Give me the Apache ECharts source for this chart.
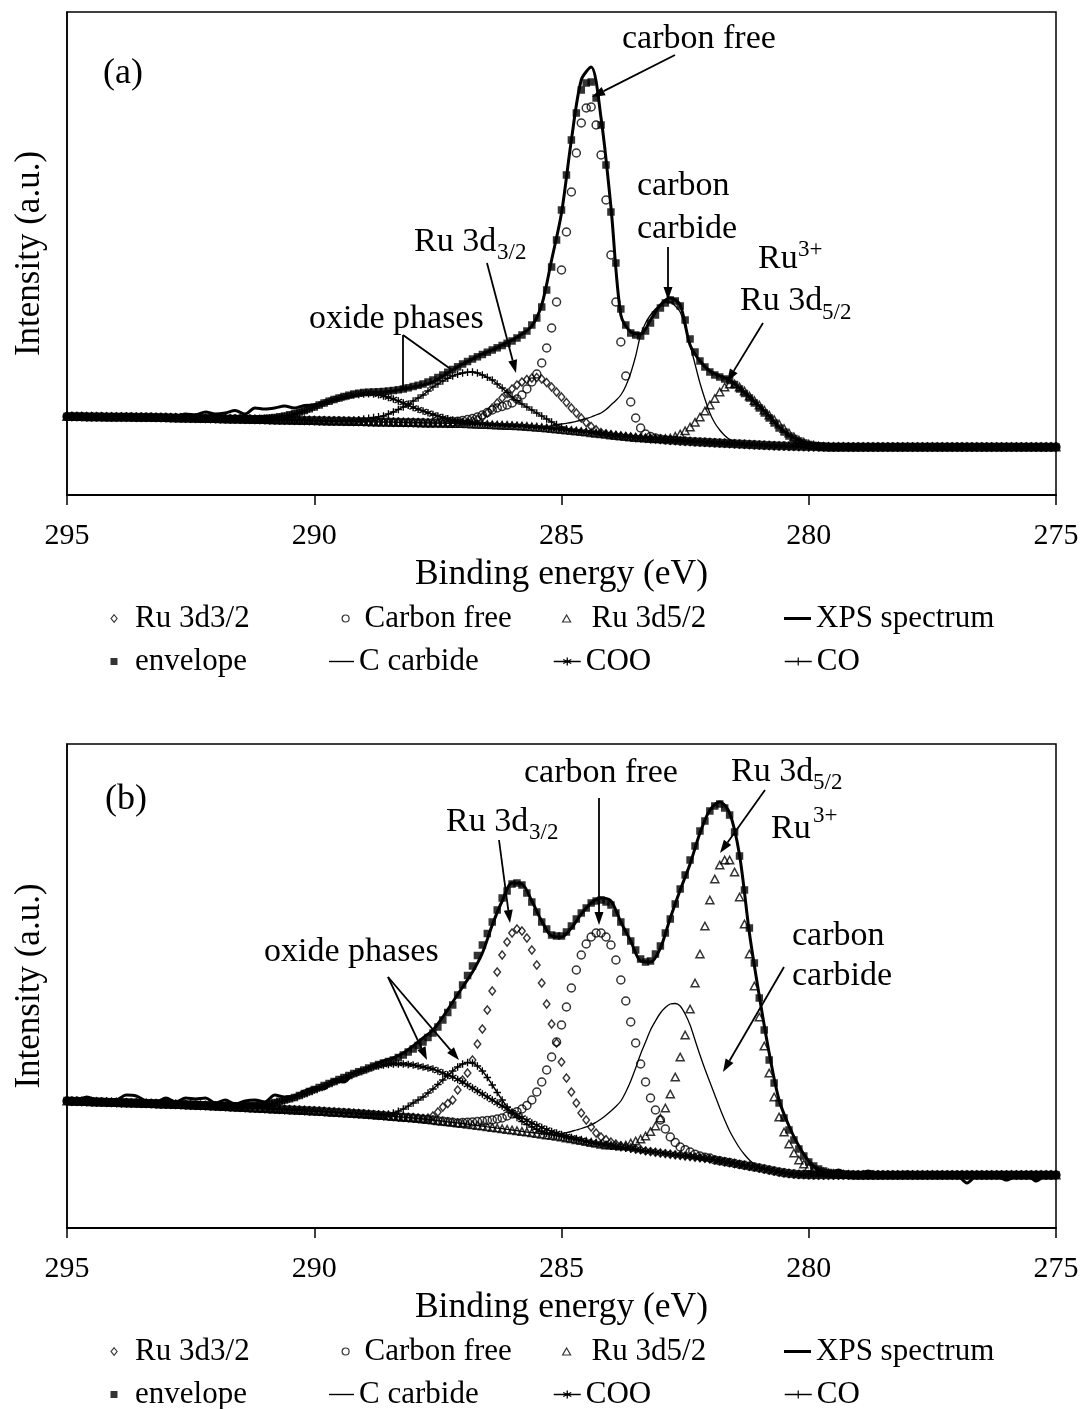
<!DOCTYPE html>
<html><head><meta charset="utf-8">
<script src="https://cdn.jsdelivr.net/npm/echarts@6.0.0/dist/echarts.min.js"></script>
<style>html,body{margin:0;padding:0;background:#fff}#chart{width:1082px;height:1409px}</style>
</head><body><div id="chart"></div>
<script>
// ---------- sampling grids (eV): spectra every 0.2 eV, fitted curves every 0.1 eV, from 295 down ----------
const E_START = 295, SPEC_STEP = 0.2, FIT_STEP = 0.1;

// ================= panel (a) =================
const spectrumA = [
 79, 79, 78.5, 79, 78.5, 79, 78.5, 78, 79, 78.5,
 79, 78.5, 81, 80, 83, 81, 82, 84.5, 81, 87,
 86, 87, 89, 87, 89.5, 90, 92, 95, 97, 99.5,
 101.5, 102.5, 103, 104, 106, 108, 110, 113, 119, 125,
 131, 136, 141, 145, 150, 155, 161, 169, 190, 235,
 282, 355, 415, 428, 377, 288, 180, 163, 161, 175,
 190, 197, 190, 150, 134, 124, 119, 115, 107, 98,
 89, 79, 68, 60, 55, 51, 49.5, 48.5, 48.5, 48,
 48.5, 48, 48, 48.5, 48, 48, 48, 48.5, 48, 48,
 47.5, 48, 48, 48, 48, 47.5, 48, 48, 48, 48,
 48];
const backgroundA = [
 78.5, 78.5, 78.4, 78.4, 78.3, 78.3, 78.2, 78.2, 78.1, 78.1,
 78, 78, 77.9, 77.9, 77.8, 77.8, 77.7, 77.7, 77.6, 77.5,
 77.4, 77.3, 77.2, 77.1, 77, 76.9, 76.8, 76.7, 76.6, 76.5,
 76.4, 76.3, 76.2, 76.1, 76, 75.9, 75.8, 75.7, 75.6, 75.5,
 75.4, 75.3, 75.2, 75.1, 75, 74.9, 74.8, 74.7, 74.6, 74.5,
 74.4, 74.3, 74.2, 74.1, 74, 73.9, 73.8, 73.7, 73.6, 73.5,
 73.4, 73.3, 73.2, 73.1, 73, 72.9, 72.8, 72.7, 72.6, 72.5,
 72.4, 72.3, 72.2, 72.1, 72, 71.9, 71.8, 71.7, 71.6, 71.5,
 71.4, 71.2, 71, 70.8, 70.6, 70.4, 70.2, 70, 69.8, 69.6,
 69.4, 69.2, 68.9, 68.6, 68.2, 67.8, 67.4, 67, 66.5, 66,
 65.5, 65, 64.5, 64, 63.4, 62.9, 62.3, 61.8, 61.2, 60.7,
 60.1, 59.6, 59, 58.5, 58, 57.5, 57.1, 56.7, 56.3, 55.9,
 55.5, 55.2, 54.8, 54.5, 54.1, 53.8, 53.5, 53.2, 52.9, 52.7,
 52.4, 52.2, 51.9, 51.7, 51.4, 51.2, 50.9, 50.7, 50.4, 50.2,
 49.9, 49.7, 49.5, 49.3, 49.1, 49, 48.8, 48.7, 48.5, 48.4,
 48.3, 48.3, 48.2, 48.2, 48.1, 48.1, 48.1, 48.1, 48, 48,
 48, 48, 48, 48, 48, 48, 48, 48, 48, 48,
 48, 48, 48, 48, 48, 48, 48, 48, 48, 48,
 48, 48, 48, 48, 48, 48, 48, 48, 48, 48,
 48, 48, 48, 48, 48, 48, 48, 48, 48, 48,
 48];
const envelopeA = [
 78.5, 78.5, 78.4, 78.4, 78.3, 78.3, 78.2, 78.2, 78.1, 78.1,
 78, 78, 77.9, 77.9, 77.8, 77.8, 77.7, 77.7, 77.6, 77.5,
 77.4, 77.3, 77.2, 77.1, 77, 76.9, 76.8, 76.7, 76.6, 76.5,
 76.4, 76.3, 76.2, 76.1, 76.1, 76.1, 76, 76, 76, 76.2,
 76.5, 76.9, 77.5, 78.2, 79, 80.2, 81.5, 83, 84.5, 86.2,
 88, 90, 92, 93.8, 95.5, 97, 98.5, 99.8, 101, 101.8,
 102.5, 102.8, 103, 103.2, 103.5, 104, 104.5, 105.2, 106, 107.2,
 108.5, 109.7, 111, 113, 115, 117.5, 120, 122.7, 125.5, 128.2,
 131, 133.5, 136, 138.2, 140.5, 142.8, 145, 147.2, 149.5, 151.7,
 154, 157, 160, 164, 170, 177, 188, 205, 228, 255,
 285, 320, 355, 382, 405, 412, 413, 397, 370, 330,
 283, 232, 186, 170, 162, 160, 159, 164, 172, 180,
 187, 192, 195, 194, 189, 175, 156, 143, 134, 128,
 123, 120, 118, 116, 114.5, 110.5, 106, 101.5, 97, 92,
 87, 82, 77, 72, 67, 63, 59, 56.5, 54, 52,
 50.5, 49.6, 49, 48.6, 48.3, 48.2, 48.2, 48.1, 48.1, 48,
 48, 48, 48, 48, 48, 48, 48, 48, 48, 48,
 48, 48, 48, 48, 48, 48, 48, 48, 48, 48,
 48, 48, 48, 48, 48, 48, 48, 48, 48, 48,
 48, 48, 48, 48, 48, 48, 48, 48, 48, 48,
 48];
// fitted components: values start at the given energy (eV) in 0.1 eV steps; background elsewhere
const ru32A_start = 287.6;
const ru32A = [72.1, 72, 71.9, 71.8, 71.8, 71.9, 72.2, 72.9, 74, 75.7,
 78, 82, 87, 92, 97, 101.5, 106, 110, 113, 115.5,
 117, 117.5, 116, 112.5, 108, 103, 98, 92.5, 87, 82,
 77, 72.5, 68.5, 65.2, 62.5, 61.2, 60.3, 59.6, 59.1];
const carbonFreeA_start = 287.6;
const carbonFreeA = [72.2, 72.3, 72.5, 72.8, 73.2, 73.8, 74.5, 75.4, 76.5, 78,
 80, 82.5, 85, 87, 88.5, 90, 92, 96, 100, 106,
 113, 121, 132, 147, 167, 193, 225, 263, 303, 342,
 372, 387, 388, 370, 340, 295, 240, 193, 153, 119,
 93, 77, 67, 61, 58.5, 57, 56];
const ru52A_start = 283.4;
const ru52A = [57.3, 56.9, 56.6, 56.3, 56.2, 56.4, 57, 58.7, 61, 64.2,
 68, 72.7, 78, 84, 90, 96.5, 103, 108, 111, 111,
 108, 104, 99, 94.5, 90, 85, 80, 75.5, 71, 66.5,
 62, 58.2, 55, 52.8, 51, 49.8, 49];
const carbideA_start = 285.6;
const carbideA = [68.5, 68.3, 68.2, 68.5, 69, 70, 71, 71.7, 72.5, 73.7,
 75, 76.5, 78, 80, 82, 85.5, 90, 94.5, 100, 109,
 122, 139, 160, 172, 180, 186, 190, 192.5, 193, 189,
 183, 168, 150, 131, 112, 96, 82, 72, 65, 59.5,
 55.5, 53.5, 52, 51.2, 50.6, 50.2, 50];
const cooA_start = 291.4;
const cooA = [75.9, 75.9, 76, 76.2, 76.5, 76.9, 77.3, 78, 78.7, 79.8,
 81, 82.5, 84, 86, 88, 90, 92, 93.8, 95.5, 96.8,
 98, 99.1, 100, 100.6, 101, 101.2, 101, 100.2, 99, 97.6,
 96, 94, 92, 89.8, 87.5, 85.7, 84, 82.2, 80.5, 79,
 77.5, 76.2, 75, 74, 73, 72.2, 71.5, 71.2, 71];
const coA_start = 289.4;
const coA = [74, 74.3, 74.8, 75.3, 76, 76.7, 77.5, 78.2, 79, 81,
 83, 85.5, 88, 91, 94, 97, 100, 104, 108, 111,
 114, 116.7, 119, 120.7, 122, 122.8, 123, 122, 120, 117.7,
 115, 111, 107, 102.5, 98, 94.5, 91, 88, 85, 82,
 79, 76, 73, 70.5, 68, 66.3, 64.8];

// ================= panel (b) =================
const spectrumB = [
 129, 128, 131, 128, 127, 128, 133, 132, 127, 126,
 130, 126, 130, 129, 130, 125, 128, 124, 127, 128,
 126, 133, 131, 132, 137, 140, 139, 148, 146, 155,
 158, 163, 167, 170, 175, 182, 190, 198, 211, 226,
 241, 256, 275, 303, 327, 345, 344, 327, 307, 292,
 291, 300, 314, 325, 330, 327, 306, 287, 267, 266,
 280, 310, 338, 364, 395, 418, 426, 415, 373, 295,
 232, 175, 128, 102, 82, 67, 58, 55, 58, 54,
 54, 57, 54, 53, 54, 56, 53, 54, 53, 54,
 53, 45, 53, 54, 53, 48, 53, 54, 47, 53,
 53];
const backgroundB = [
 127, 126.8, 126.7, 126.5, 126.4, 126.2, 126.1, 125.9, 125.8, 125.6,
 125.5, 125.3, 125.2, 125, 124.9, 124.7, 124.6, 124.4, 124.3, 124.1,
 124, 123.8, 123.6, 123.4, 123.2, 123, 122.8, 122.6, 122.4, 122.2,
 122, 121.7, 121.5, 121.2, 121, 120.7, 120.5, 120.2, 120, 119.7,
 119.5, 119.2, 119, 118.7, 118.5, 118.2, 118, 117.7, 117.5, 117.2,
 117, 116.7, 116.4, 116.1, 115.8, 115.5, 115.2, 114.9, 114.6, 114.3,
 114, 113.6, 113.2, 112.8, 112.4, 112, 111.6, 111.2, 110.8, 110.4,
 110, 109.5, 109, 108.5, 107.9, 107.3, 106.8, 106.2, 105.7, 105.1,
 104.5, 103.8, 103.2, 102.5, 101.9, 101.2, 100.6, 99.9, 99.3, 98.6,
 98, 97.3, 96.6, 95.9, 95.2, 94.5, 93.8, 93.1, 92.4, 91.7,
 91, 90.1, 89.2, 88.3, 87.4, 86.5, 85.6, 84.7, 83.8, 82.9,
 82, 81.3, 80.6, 79.9, 79.2, 78.5, 77.8, 77.1, 76.4, 75.7,
 75, 74.4, 73.8, 73.2, 72.6, 72, 71.4, 70.8, 70.2, 69.6,
 69, 68.1, 67.2, 66.3, 65.4, 64.5, 63.6, 62.7, 61.8, 60.9,
 60, 59, 58, 57, 56, 55.2, 54.5, 54, 53.6, 53.4,
 53.2, 53.1, 53, 53, 53, 53, 53, 53, 53, 53,
 53, 53, 53, 53, 53, 53, 53, 53, 53, 53,
 53, 53, 53, 53, 53, 53, 53, 53, 53, 53,
 53, 53, 53, 53, 53, 53, 53, 53, 53, 53,
 53, 53, 53, 53, 53, 53, 53, 53, 53, 53,
 53];
const envelopeB = [
 127.5, 127.3, 127.2, 127, 126.9, 126.7, 126.6, 126.4, 126.3, 126.1,
 126, 125.8, 125.7, 125.5, 125.4, 125.2, 125.1, 124.9, 124.8, 124.6,
 124.5, 124.3, 124.1, 123.9, 123.7, 123.5, 123.3, 123.1, 122.9, 122.7,
 122.5, 122.3, 122.2, 122.1, 122, 122.1, 122.2, 122.4, 122.8, 123.1,
 123.5, 124.4, 125.5, 126.7, 128, 129.2, 130.5, 132.5, 134.5, 136.5,
 138.5, 140.5, 142.5, 144.5, 146.5, 148.5, 150.5, 152.5, 154.5, 156.3,
 158, 160, 162, 163.5, 165, 166.5, 168, 170.5, 173, 176,
 179, 182.5, 186, 190.5, 195, 201, 208, 215.5, 223, 233,
 243, 252.5, 262, 272.5, 283, 294.5, 306, 318, 330, 337,
 344, 345, 343, 335, 326, 316, 306, 299, 293, 292,
 292, 296, 302, 309, 315, 320, 325, 327, 328, 326,
 323, 315, 306, 296, 287, 278, 269, 266, 267, 274,
 282, 295, 309, 324, 339, 353, 368, 382, 397, 407,
 417, 422, 424, 420, 413, 396, 372, 338, 300, 265,
 230, 198, 168, 145, 125, 110, 98, 88, 79, 72,
 66, 62, 59, 57, 55.5, 54.7, 54.2, 53.8, 53.6, 53.4,
 53.3, 53.2, 53.2, 53.2, 53.2, 53.2, 53.2, 53.2, 53.2, 53.2,
 53.2, 53.2, 53.2, 53.2, 53.2, 53.2, 53.2, 53.2, 53.2, 53.2,
 53.2, 53.2, 53.2, 53.2, 53.2, 53.2, 53.2, 53.2, 53.2, 53.2,
 53.2, 53.2, 53.2, 53.2, 53.2, 53.2, 53.2, 53.2, 53.2, 53.2,
 53.2];
const ru32B_start = 288.0;
const ru32B = [110.5, 110, 109.5, 110, 112, 116, 121, 124.5, 128, 138,
 148, 155, 168, 184, 199, 218, 237, 256, 273, 286,
 295, 299, 297, 290, 278, 263, 245, 224, 204, 185,
 166, 150, 136, 125, 115, 108, 101, 95, 91, 88.3,
 86, 84, 82.3, 81, 80, 79, 78.3];
const carbonFreeB_start = 287.0;
const carbonFreeB = [105.5, 105.7, 106, 106.5, 107, 107.5, 108, 109, 110, 112,
 114, 116.3, 119, 122.5, 128, 136, 146, 158, 171, 186,
 203, 221, 240, 258, 273, 284, 291, 295, 295, 291,
 283, 268, 248, 227, 206, 185, 164, 146, 130, 118,
 108, 99, 91, 85.5, 81, 78.3, 76, 73.8, 72, 70.8,
 70];
const ru52B_start = 284.0;
const ru52B = [83, 82.5, 82, 83, 85, 87, 89, 92, 96.5, 102,
 110, 120, 134, 151, 171, 193, 219, 245, 274, 302,
 328, 349, 363, 368, 368, 356, 331, 304, 274, 242,
 211, 182, 155, 131, 111, 96, 84, 75, 68, 64,
 61, 58.8, 57, 56, 55, 54.5, 54, 53.7, 53.5];
const carbideB_start = 285.6;
const carbideB = [95.5, 94.8, 94.2, 93.8, 93.5, 93.9, 94.5, 95.4, 96.5, 98,
 99.5, 101.2, 103, 105.8, 109, 112.8, 117, 121.5, 127, 136,
 147, 160, 174, 186, 198, 207, 215, 220.5, 224, 224.5,
 222, 214, 203, 188, 173, 159, 146, 133, 120, 108,
 97, 88, 80, 73.5, 68, 64, 61, 59.5, 58.3, 57.2,
 56.3];
const cooB_start = 291.6;
const cooB = [122, 122.1, 122.2, 122.4, 122.6, 122.9, 123.2, 124, 125, 126.2,
 127.5, 129, 130.5, 132.2, 134, 136, 138, 140, 142, 144,
 146, 148, 150, 152, 154, 155.8, 157.5, 159.3, 161, 162,
 163, 163.6, 164, 164.1, 164, 163.6, 163, 162, 161, 160,
 159, 157, 155, 153, 151, 148.5, 146, 143, 140, 137,
 134, 131, 128, 125, 122, 119, 116, 113.2, 110.5, 107.7,
 105, 102.7, 100.5, 98.5, 96.5, 95, 93.5, 92, 90.5, 89.2,
 88];
const coB_start = 288.8;
const coB = [113.5, 113.7, 113.8, 114, 115, 116.8, 119, 121.8, 125, 128,
 131, 135, 139, 143.5, 148, 152.5, 157, 161, 164, 165.5,
 165, 162, 157, 150.5, 143, 135.5, 128, 121, 115, 110.5,
 106.5, 103.5, 101, 98.7, 96.5, 94.8, 93.5, 92.4, 91.5];

const xTicks = { min: 275, max: 295, interval: 5 };
const legendNames = ['Ru 3d3/2', 'Carbon free', 'Ru 3d5/2', 'XPS spectrum', 'envelope', 'C carbide', 'COO', 'CO'];

// ---------- helpers ----------
const gridE = (n, step) => Array.from({ length: n }, (_, i) => +(E_START - step * i).toFixed(1));
const specE = gridE(spectrumA.length, SPEC_STEP);
const fitE = gridE(backgroundA.length, FIT_STEP);
function withBg(bg, start, vals) {
  const s = Math.round((E_START - start) / FIT_STEP);
  return bg.map((b, i) => (i >= s && i < s + vals.length) ? vals[i - s] : b);
}
const pairsOn = (xs, vals) => vals.map((v, i) => [xs[i], v]);

const SERIF = "'Liberation Serif', 'Times New Roman', serif";
const STAR = 'path://M5,0 L5,10 M0.7,2.5 L9.3,7.5 M0.7,7.5 L9.3,2.5';
const PLUS = 'path://M0,5 L10,5 M5,0 L5,10';
const HOLLOW = { color: 'rgba(255,255,255,0)', borderColor: '#000', borderWidth: 1.5 };

const panels = [
  { bg: backgroundA, spec: spectrumA, env: envelopeA,
    ru32: withBg(backgroundA, ru32A_start, ru32A), cf: withBg(backgroundA, carbonFreeA_start, carbonFreeA),
    ru52: withBg(backgroundA, ru52A_start, ru52A), carb: withBg(backgroundA, carbideA_start, carbideA),
    coo: withBg(backgroundA, cooA_start, cooA), co: withBg(backgroundA, coA_start, coA), ymax: 483 },
  { bg: backgroundB, spec: spectrumB, env: envelopeB,
    ru32: withBg(backgroundB, ru32B_start, ru32B), cf: withBg(backgroundB, carbonFreeB_start, carbonFreeB),
    ru52: withBg(backgroundB, ru52B_start, ru52B), carb: withBg(backgroundB, carbideB_start, carbideB),
    coo: withBg(backgroundB, cooB_start, cooB), co: withBg(backgroundB, coB_start, coB), ymax: 484 }
];

const grids = [
  { left: 67, top: 12, width: 989, height: 483 },
  { left: 67, top: 744, width: 989, height: 484 }
];

const series = [];
panels.forEach((P, k) => {
  const ax = { xAxisIndex: k, yAxisIndex: k, silent: true, emphasis: { disabled: true } };
  series.push(
    { ...ax, name: 'COO', type: 'line', data: pairsOn(fitE, P.coo), smooth: 0.3, symbol: STAR, symbolSize: 7.5,
      lineStyle: { color: '#000', width: 1.5 }, itemStyle: { color: '#000', borderColor: '#000', borderWidth: 1.4 } },
    { ...ax, name: 'CO', type: 'line', data: pairsOn(fitE, P.co), smooth: 0.3, symbol: PLUS, symbolSize: 7.5,
      lineStyle: { color: '#000', width: 1.4 }, itemStyle: { color: '#000', borderColor: '#000', borderWidth: 1.3 } },
    { ...ax, name: 'Ru 3d3/2', type: 'scatter', data: pairsOn(fitE, P.ru32), symbol: 'diamond', symbolSize: [6.5, 8], itemStyle: HOLLOW },
    { ...ax, name: 'Carbon free', type: 'scatter', data: pairsOn(fitE, P.cf), symbol: 'circle', symbolSize: 8, itemStyle: HOLLOW },
    { ...ax, name: 'Ru 3d5/2', type: 'scatter', data: pairsOn(fitE, P.ru52), symbol: 'triangle', symbolSize: [8, 7.5], itemStyle: HOLLOW },
    { ...ax, name: 'C carbide', type: 'line', data: pairsOn(fitE, P.carb), smooth: 0.3, symbol: 'none',
      lineStyle: { color: '#000', width: 1.3 } },
    { ...ax, name: 'envelope', type: 'scatter', data: pairsOn(fitE, P.env), symbol: 'rect', symbolSize: 7.5, itemStyle: { color: '#000' } },
    { ...ax, name: 'XPS spectrum', type: 'line', data: pairsOn(specE, P.spec), smooth: 0.3, symbol: 'none',
      lineStyle: { color: '#000', width: 3 } }
  );
});

const axisFont = { fontFamily: SERIF, color: '#000' };
const xAxes = grids.map((g, k) => ({
  gridIndex: k, type: 'value', inverse: true, min: xTicks.min, max: xTicks.max, interval: xTicks.interval,
  name: 'Binding energy (eV)', nameLocation: 'middle', nameGap: 62, nameMoveOverlap: false,
  nameTextStyle: { ...axisFont, fontSize: 35.5 },
  axisLine: { show: true, lineStyle: { color: '#000', width: 2 } },
  axisTick: { show: true, inside: false, length: 10, lineStyle: { color: '#000', width: 1.5 } },
  axisLabel: { ...axisFont, fontSize: 30, margin: 26 },
  splitLine: { show: false }
}));
const yAxes = grids.map((g, k) => ({
  gridIndex: k, type: 'value', min: 0, max: panels[k].ymax,
  name: 'Intensity (a.u.)', nameLocation: 'middle', nameGap: 20, nameMoveOverlap: false,
  nameTextStyle: { ...axisFont, fontSize: 35 },
  axisLine: { show: true, lineStyle: { color: '#000', width: 1.5 } },
  axisTick: { show: false }, axisLabel: { show: false }, splitLine: { show: false }
}));

// ---------- legends (one component per item so the columns line up) ----------
function leg(name, left, cy, iw, ih, padL, extra) {
  return Object.assign({
    data: [name], left: left, top: cy - 16, itemWidth: iw, itemHeight: ih, itemGap: 0, padding: 0,
    selectedMode: false, orient: 'horizontal',
    textStyle: { fontFamily: SERIF, fontSize: 31, color: '#000', padding: [0, 0, 0, padL] }
  }, extra || {});
}
const LEG_HOLLOW = { color: 'rgba(255,255,255,0)', borderColor: '#000', borderWidth: 1.2 };
const legends = [];
[[619, 662], [1352, 1395]].forEach(([r1, r2]) => {
  legends.push(
    leg(legendNames[0], 110.5, r1, 6, 7.5, 13, { itemStyle: LEG_HOLLOW }),
    leg(legendNames[1], 341.5, r1, 7, 7, 10.5, { itemStyle: LEG_HOLLOW }),
    leg(legendNames[2], 562, r1, 8, 7, 16, { itemStyle: LEG_HOLLOW }),
    leg(legendNames[3], 784, r1, 27, 3, 0, { icon: 'rect', itemStyle: { color: '#000', borderWidth: 0 } }),
    leg(legendNames[4], 110.5, r2, 7, 7, 12.5, { itemStyle: { color: '#000', borderWidth: 0 } }),
    leg(legendNames[5], 329, r2, 25, 1.4, 0, { icon: 'rect', itemStyle: { color: '#000', borderWidth: 0 } }),
    leg(legendNames[6], 553, r2, 27, 10, 0, { itemStyle: { color: '#000', borderColor: '#000', borderWidth: 1.3 }, lineStyle: { color: '#000', width: 1.5 } }),
    leg(legendNames[7], 784, r2, 27, 10, 0, { itemStyle: { color: '#000', borderColor: '#000', borderWidth: 1.2 }, lineStyle: { color: '#000', width: 1.5 } })
  );
});

// ---------- annotations ----------
function T(s, x, y, size) {
  return { type: 'text', x: x, y: y, z: 100, silent: true,
    style: { text: s, font: size + 'px ' + SERIF, fill: '#000', align: 'left', verticalAlign: 'middle' } };
}
function ARROW(x1, y1, x2, y2) {
  const dx = x2 - x1, dy = y2 - y1, L = Math.hypot(dx, dy), ux = dx / L, uy = dy / L, h = 13, w = 4.5;
  const bx = x2 - ux * h, by = y2 - uy * h;
  return [
    { type: 'line', z: 100, silent: true, shape: { x1: x1, y1: y1, x2: bx, y2: by }, style: { stroke: '#000', lineWidth: 1.8 } },
    { type: 'polygon', z: 100, silent: true, shape: { points: [[x2, y2], [bx - uy * w, by + ux * w], [bx + uy * w, by - ux * w]] }, style: { fill: '#000' } }
  ];
}
function LINE(x1, y1, x2, y2) {
  return { type: 'line', z: 100, silent: true, shape: { x1: x1, y1: y1, x2: x2, y2: y2 }, style: { stroke: '#000', lineWidth: 1.8 } };
}
const graphics = [
  // panel (a)
  T('(a)', 103, 74, 36),
  T('carbon free', 622, 39, 34), ...ARROW(675, 55, 592, 97),
  T('carbon', 637, 186, 34), T('carbide', 637, 229, 34), ...ARROW(668, 247, 668, 300),
  T('Ru', 758, 259, 34), T('3+', 798, 250, 23),
  T('Ru 3d', 740, 301, 34), T('5/2', 822, 313, 23), ...ARROW(763, 323, 727, 382),
  T('Ru 3d', 414, 242, 34), T('3/2', 497, 253, 23), ...ARROW(487, 263, 516, 373),
  T('oxide phases', 309, 319, 34), LINE(403, 335, 403, 388), LINE(403, 335, 452, 370),
  // panel (b)
  T('(b)', 105, 800, 36),
  T('carbon free', 524, 773, 34), ...ARROW(599, 798, 599, 925),
  T('Ru 3d', 731, 772, 34), T('5/2', 813, 783, 23), ...ARROW(765, 790, 720, 853),
  T('Ru', 771, 829, 34), T('3+', 813, 816, 23),
  T('Ru 3d', 446, 822, 34), T('3/2', 529, 833, 23), ...ARROW(499, 840, 510, 923),
  T('carbon', 792, 936, 34), T('carbide', 792, 976, 34), ...ARROW(784, 967, 723, 1072),
  T('oxide phases', 264, 952, 34), ...ARROW(388, 977, 427, 1060), ...ARROW(388, 977, 459, 1060)
];

const chart = echarts.init(document.getElementById('chart'), null, { renderer: 'canvas' });
chart.setOption({
  animation: false,
  backgroundColor: '#fff',
  grid: grids.map(g => Object.assign({ show: true, borderColor: '#000', borderWidth: 1.5, backgroundColor: 'transparent', containLabel: false, outerBoundsMode: 'none' }, g)),
  xAxis: xAxes,
  yAxis: yAxes,
  legend: legends,
  series: series,
  graphic: graphics
});
</script></body></html>
